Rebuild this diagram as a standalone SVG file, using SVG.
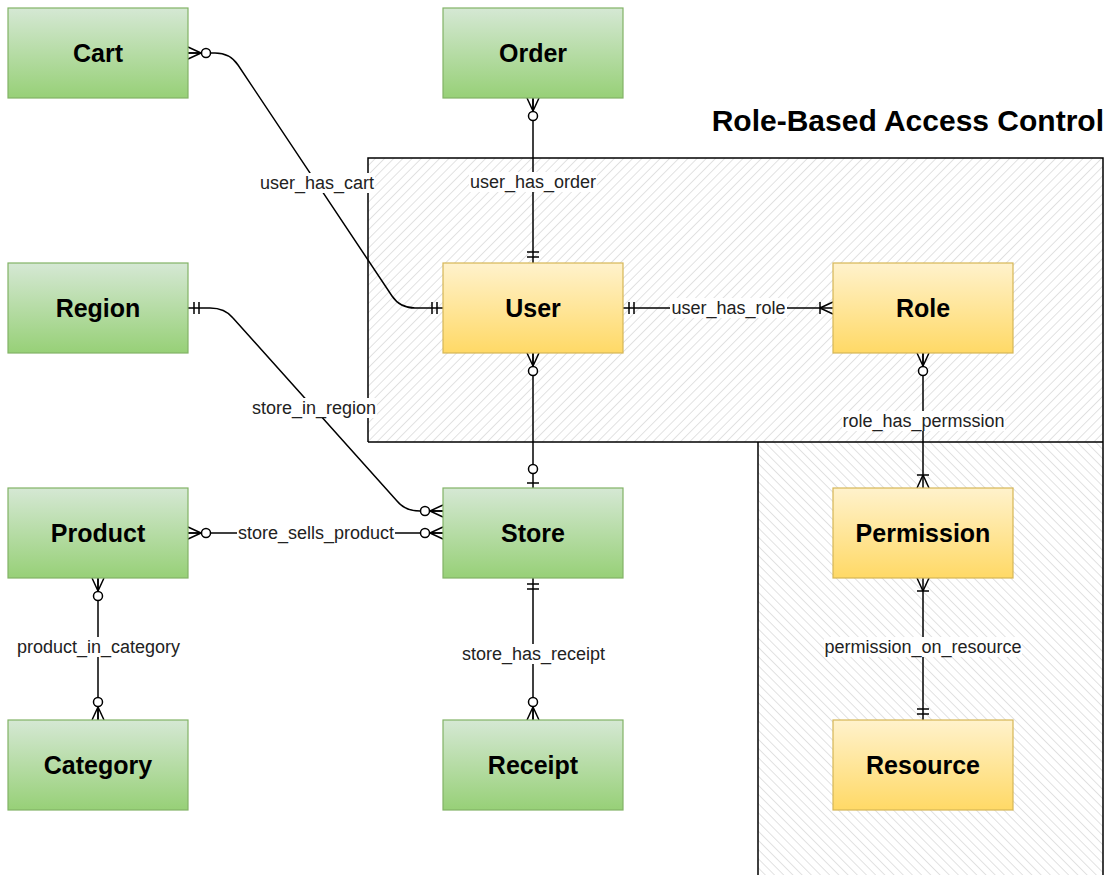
<svg xmlns="http://www.w3.org/2000/svg" width="1115" height="875" viewBox="0 0 1115 875">
<defs>
<linearGradient id="gGreen" x1="0" y1="0" x2="0" y2="1"><stop offset="0" stop-color="#d5e8d4"/><stop offset="1" stop-color="#97d077"/></linearGradient>
<linearGradient id="gYellow" x1="0" y1="0" x2="0" y2="1"><stop offset="0" stop-color="#fff2cc"/><stop offset="1" stop-color="#ffd966"/></linearGradient>
<pattern id="hatchA" width="6.5" height="6.5" patternUnits="userSpaceOnUse" patternTransform="rotate(45)"><line x1="0" y1="0" x2="0" y2="6.5" stroke="#cfcfcf" stroke-width="1.2"/></pattern>
<pattern id="hatchB" width="6.5" height="6.5" patternUnits="userSpaceOnUse" patternTransform="rotate(-45)"><line x1="0" y1="0" x2="0" y2="6.5" stroke="#cfcfcf" stroke-width="1.2"/></pattern>
<marker id="zeroMany" markerUnits="userSpaceOnUse" viewBox="-30 -10 32 20" refX="0" refY="0" markerWidth="32" markerHeight="20" orient="auto-start-reverse" overflow="visible"><path d="M-13,0 L0,-6 M-13,0 L0,0 M-13,0 L0,6" fill="none" stroke="#000" stroke-width="1.5"/><circle cx="-18" cy="0" r="4.5" fill="#fff" stroke="#000" stroke-width="1.5"/></marker>
<marker id="mandOne" markerUnits="userSpaceOnUse" viewBox="-30 -10 32 20" refX="0" refY="0" markerWidth="32" markerHeight="20" orient="auto-start-reverse" overflow="visible"><path d="M-11,-6 V6 M-6,-6 V6" fill="none" stroke="#000" stroke-width="1.5"/></marker>
<marker id="oneMany" markerUnits="userSpaceOnUse" viewBox="-30 -10 32 20" refX="0" refY="0" markerWidth="32" markerHeight="20" orient="auto-start-reverse" overflow="visible"><path d="M-13,-6 V6 M-13,0 L0,-6 M-13,0 L0,6" fill="none" stroke="#000" stroke-width="1.5"/></marker>
<marker id="zeroOne" markerUnits="userSpaceOnUse" viewBox="-30 -10 32 20" refX="0" refY="0" markerWidth="32" markerHeight="20" orient="auto-start-reverse" overflow="visible"><path d="M-5,-6 V6" fill="none" stroke="#000" stroke-width="1.5"/><circle cx="-19" cy="0" r="4.5" fill="#fff" stroke="#000" stroke-width="1.5"/></marker>
</defs>
<style>
.green{fill:url(#gGreen);stroke:#82b366;stroke-width:1.2}
.yellow{fill:url(#gYellow);stroke:#d6b656;stroke-width:1.2}
.nlabel{font-family:"Liberation Sans",Arial,sans-serif;font-size:25px;font-weight:bold;text-anchor:middle;fill:#000}
.elabel{font-family:"Liberation Sans",Arial,sans-serif;font-size:18px;text-anchor:middle;fill:#222}
.lbg{fill:#fff}
.edge{fill:none;stroke:#000;stroke-width:1.5}
.title{font-family:"Liberation Sans",Arial,sans-serif;font-size:30px;font-weight:bold;text-anchor:end;fill:#000}
</style>
<rect width="1115" height="875" fill="#fff"/>
<g id="rbac-region">
<rect x="368" y="158" width="735" height="284" fill="url(#hatchA)"/>
<rect x="758" y="442" width="345" height="440" fill="url(#hatchB)"/>
<path d="M368,442 V158 H1103 V875 M368,442 H1103 M758,442 V875" fill="none" stroke="#000" stroke-width="1.5"/>
<text class="title" x="1104" y="131">Role-Based Access Control</text>
</g>
<g id="connectors">
<path id="e-cart-user" class="edge" d="M188,53 L215,53 Q230,53 238,65 L392,296 Q400,308 415,308 L443,308" marker-start="url(#zeroMany)" marker-end="url(#mandOne)"/>
<path id="e-order-user" class="edge" d="M533,98 V263" marker-start="url(#zeroMany)" marker-end="url(#mandOne)"/>
<path id="e-region-store" class="edge" d="M188,308 L210,308 Q225,308 233,318 L397,501 Q405,511 420,511 L443,511" marker-start="url(#mandOne)" marker-end="url(#zeroMany)"/>
<path id="e-product-store" class="edge" d="M188,533 H443" marker-start="url(#zeroMany)" marker-end="url(#zeroMany)"/>
<path id="e-user-store" class="edge" d="M533,353 V488" marker-start="url(#zeroMany)" marker-end="url(#zeroOne)"/>
<path id="e-user-role" class="edge" d="M623,308 H833" marker-start="url(#mandOne)" marker-end="url(#oneMany)"/>
<path id="e-role-perm" class="edge" d="M923,353 V488" marker-start="url(#zeroMany)" marker-end="url(#oneMany)"/>
<path id="e-perm-res" class="edge" d="M923,578 V720" marker-start="url(#oneMany)" marker-end="url(#mandOne)"/>
<path id="e-product-cat" class="edge" d="M98,578 V720" marker-start="url(#zeroMany)" marker-end="url(#zeroMany)"/>
<path id="e-store-receipt" class="edge" d="M533,578 V720" marker-start="url(#mandOne)" marker-end="url(#zeroMany)"/>
<rect class="lbg" x="259" y="173" width="116" height="20"/><text class="elabel" x="317" y="189">user_has_cart</text>
<rect class="lbg" x="469" y="172" width="128" height="20"/><text class="elabel" x="533" y="188">user_has_order</text>
<rect class="lbg" x="670" y="298" width="117" height="20"/><text class="elabel" x="728.5" y="314">user_has_role</text>
<rect class="lbg" x="251" y="398" width="126" height="20"/><text class="elabel" x="314" y="414">store_in_region</text>
<rect class="lbg" x="237" y="523" width="158" height="20"/><text class="elabel" x="316" y="539">store_sells_product</text>
<rect class="lbg" x="842" y="411" width="163" height="20"/><text class="elabel" x="923.5" y="427">role_has_permssion</text>
<rect class="lbg" x="824" y="637" width="198" height="20"/><text class="elabel" x="923" y="653">permission_on_resource</text>
<rect class="lbg" x="16" y="637" width="165" height="20"/><text class="elabel" x="98.5" y="653">product_in_category</text>
<rect class="lbg" x="461" y="644" width="145" height="20"/><text class="elabel" x="533.5" y="660">store_has_receipt</text>
</g>
<g id="n-cart"><rect class="green" x="8" y="8" width="180" height="90"/><text class="nlabel" x="98" y="62">Cart</text></g>
<g id="n-order"><rect class="green" x="443" y="8" width="180" height="90"/><text class="nlabel" x="533" y="62">Order</text></g>
<g id="n-region"><rect class="green" x="8" y="263" width="180" height="90"/><text class="nlabel" x="98" y="317">Region</text></g>
<g id="n-user"><rect class="yellow" x="443" y="263" width="180" height="90"/><text class="nlabel" x="533" y="317">User</text></g>
<g id="n-role"><rect class="yellow" x="833" y="263" width="180" height="90"/><text class="nlabel" x="923" y="317">Role</text></g>
<g id="n-product"><rect class="green" x="8" y="488" width="180" height="90"/><text class="nlabel" x="98" y="542">Product</text></g>
<g id="n-store"><rect class="green" x="443" y="488" width="180" height="90"/><text class="nlabel" x="533" y="542">Store</text></g>
<g id="n-permission"><rect class="yellow" x="833" y="488" width="180" height="90"/><text class="nlabel" x="923" y="542">Permission</text></g>
<g id="n-category"><rect class="green" x="8" y="720" width="180" height="90"/><text class="nlabel" x="98" y="774">Category</text></g>
<g id="n-receipt"><rect class="green" x="443" y="720" width="180" height="90"/><text class="nlabel" x="533" y="774">Receipt</text></g>
<g id="n-resource"><rect class="yellow" x="833" y="720" width="180" height="90"/><text class="nlabel" x="923" y="774">Resource</text></g>
</svg>
